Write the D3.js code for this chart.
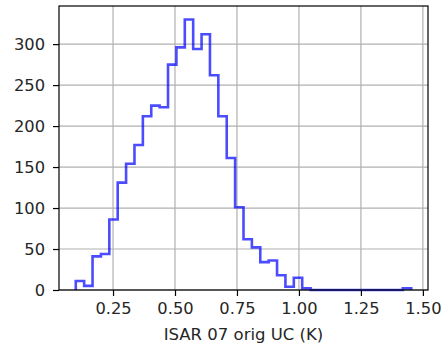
<!DOCTYPE html>
<html>
<head>
<meta charset="utf-8">
<script src="https://cdn.jsdelivr.net/npm/d3@7"></script>
<style>
  body { margin: 0; background: #fff; }
  svg text { font-family: "DejaVu Sans", sans-serif; fill: #262626; }
</style>
</head>
<body>
<svg id="vis" width="441" height="346"></svg>
<script>
// histogram range and counts (40 equal bins)
const binLo = 0.0997;
const binHi = 1.453;
const counts = [11, 5, 41, 44, 86, 131, 154, 177, 212, 225,
                223, 275, 296, 330, 294, 312, 262, 212, 161, 101,
                62, 52, 34, 36, 18, 4, 15, 2, 0, 0,
                0, 0, 0, 0, 0, 0, 0, 0, 0, 2];
const xTicks = [0.25, 0.5, 0.75, 1.0, 1.25, 1.5];
const yTicks = [0, 50, 100, 150, 200, 250, 300];
const xLabel = 'ISAR 07 orig UC (K)';

const margin = {top: 6, right: 13, bottom: 56, left: 59};
const vis = d3.select('#vis');
const width = +vis.attr('width') - margin.left - margin.right;
const height = +vis.attr('height') - margin.top - margin.bottom;

const binW = (binHi - binLo) / counts.length;
const edges = d3.range(counts.length + 1).map(i => binLo + i * binW);
const pad = 0.05 * (binHi - binLo);

const x = d3.scaleLinear()
  .domain([binLo - pad, binHi + pad])
  .range([0, width]);

const y = d3.scaleLinear()
  .domain([0, d3.max(counts) * 1.05])
  .range([height, 0]);

const g = vis.append('g')
  .attr('transform', `translate(${margin.left},${margin.top})`);

// grid
g.append('g').selectAll('line').data(xTicks).enter()
  .append('line')
    .attr('x1', d => x(d)).attr('x2', d => x(d))
    .attr('y1', 0).attr('y2', height)
    .attr('stroke', '#b0b0b0').attr('stroke-width', 1.2);

g.append('g').selectAll('line').data(yTicks).enter()
  .append('line')
    .attr('x1', 0).attr('x2', width)
    .attr('y1', d => y(d)).attr('y2', d => y(d))
    .attr('stroke', '#b0b0b0').attr('stroke-width', 1.2);

// step outline
const pts = [[edges[0], 0]];
counts.forEach((c, i) => {
  pts.push([edges[i], c]);
  pts.push([edges[i + 1], c]);
});
pts.push([edges[counts.length], 0]);

const line = d3.line()
  .x(d => x(d[0]))
  .y(d => y(d[1]));

g.append('path')
  .datum(pts)
  .attr('d', line)
  .attr('fill', 'none')
  .attr('stroke', '#0000ff')
  .attr('stroke-opacity', 0.7)
  .attr('stroke-width', 2.6)
  .attr('stroke-linejoin', 'miter');

// axes
const xAxis = g.append('g')
  .attr('transform', `translate(0,${height})`)
  .call(d3.axisBottom(x).tickValues(xTicks).tickFormat(d3.format('.2f')).tickSize(6).tickPadding(6));

const yAxis = g.append('g')
  .call(d3.axisLeft(y).tickValues(yTicks).tickFormat(d3.format('d')).tickSize(6).tickPadding(8));

[xAxis, yAxis].forEach(a => {
  a.select('.domain').remove();
  a.selectAll('.tick line').attr('stroke', '#000').attr('stroke-width', 1.2);
  a.selectAll('.tick text')
    .style('font-family', '"DejaVu Sans", sans-serif')
    .style('font-size', '16.3px')
    .attr('fill', '#262626');
});

// frame
g.append('rect')
  .attr('x', 0).attr('y', 0)
  .attr('width', width).attr('height', height)
  .attr('fill', 'none')
  .attr('stroke', '#000')
  .attr('stroke-width', 1.2);

g.append('text')
  .attr('x', width / 2)
  .attr('y', height + 49.5)
  .attr('text-anchor', 'middle')
  .style('font-size', '16.5px')
  .text(xLabel);
</script>
</body>
</html>
